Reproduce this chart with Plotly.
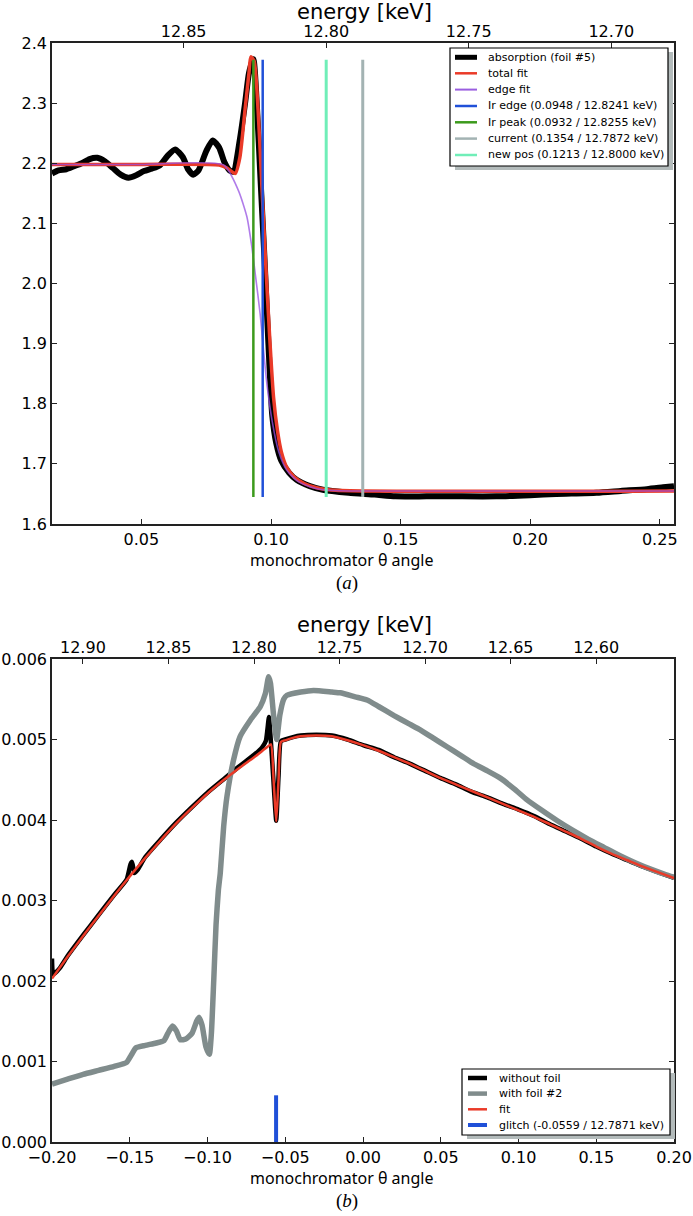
import plotly.graph_objects as go

# ---------------- Panel (a) data ----------------
abs_theta = [0.0155, 0.018, 0.021, 0.024, 0.027, 0.030, 0.033, 0.036, 0.039, 0.042, 0.045, 0.048,
             0.051, 0.054, 0.057, 0.060, 0.063, 0.066, 0.068, 0.070, 0.072, 0.075, 0.0775, 0.080,
             0.082, 0.084, 0.0855, 0.088, 0.090, 0.0915, 0.0932, 0.0945, 0.0960, 0.0975, 0.0990,
             0.1005, 0.102, 0.104, 0.107, 0.110, 0.115, 0.120, 0.130, 0.140, 0.148, 0.160, 0.170,
             0.187, 0.200, 0.210, 0.2256, 0.235, 0.245, 0.2513, 0.2555]
abs_val = [2.183, 2.188, 2.190, 2.195, 2.200, 2.207, 2.209, 2.203, 2.192, 2.181, 2.176, 2.180,
           2.187, 2.191, 2.196, 2.212, 2.223, 2.210, 2.190, 2.181, 2.188, 2.220, 2.238, 2.226,
           2.202, 2.188, 2.186, 2.240, 2.300, 2.350, 2.373, 2.300, 2.170, 2.040, 1.900,
           1.780, 1.735, 1.705, 1.685, 1.673, 1.663, 1.657, 1.652, 1.649, 1.646, 1.646, 1.646,
           1.646, 1.648, 1.650, 1.652, 1.655, 1.658, 1.661, 1.663]

fit_theta = [0.0155, 0.050, 0.080, 0.083, 0.0862, 0.088, 0.090, 0.0915, 0.0922, 0.0935, 0.095,
             0.0965, 0.098, 0.0995, 0.101, 0.1025, 0.104, 0.106, 0.109, 0.113, 0.118, 0.125, 0.2555]
fit_val = [2.198, 2.198, 2.197, 2.192, 2.183, 2.210, 2.290, 2.350, 2.377, 2.370, 2.290,
           2.160, 2.030, 1.910, 1.810, 1.755, 1.720, 1.695, 1.678, 1.667, 1.660, 1.656, 1.655]

edge_theta = [0.0155, 0.050, 0.0817, 0.0874, 0.0907, 0.0926, 0.0939, 0.0958, 0.0971, 0.0985,
              0.1005, 0.103, 0.106, 0.110, 0.115, 0.120, 0.130, 0.2555]
edge_val = [2.198, 2.198, 2.197, 2.155, 2.111, 2.061, 2.017, 1.950, 1.890, 1.830,
            1.770, 1.720, 1.690, 1.672, 1.662, 1.657, 1.655, 1.655]

marker_names = ["Ir edge (0.0948 / 12.8241 keV)", "Ir peak (0.0932 / 12.8255 keV)",
                "current (0.1354 / 12.7872 keV)", "new pos (0.1213 / 12.8000 keV)"]
marker_theta = [0.0968, 0.0932, 0.1354, 0.1213]   # drawn positions as seen in the picture
marker_span = [1.645, 2.372]
marker_colors = ["#2050d8", "#3c9a1c", "#a3b3b3", "#70eeb8"]
marker_widths = [2.5, 2.5, 3, 3]

# energy calibration (from legend entries)
cal_a = [(0.0948, 12.8241), (0.1354, 12.7872)]
ref_a = (0.1213, 12.8000)
energy_ticks_a = [12.85, 12.80, 12.75, 12.70]
energy_text_a = ["12.85", "12.80", "12.75", "12.70"]

# ---------------- Panel (b) data ----------------
nofoil_theta = [-0.200, -0.1992, -0.195, -0.190, -0.180, -0.170, -0.160, -0.152, -0.1495, -0.1485,
                -0.147, -0.145, -0.140, -0.130, -0.120, -0.110, -0.100, -0.090, -0.080, -0.070,
                -0.065, -0.0625, -0.0615, -0.0605, -0.0595, -0.0578, -0.0558, -0.0543, -0.0528,
                -0.050, -0.045, -0.040, -0.030, -0.020, -0.010, 0.000, 0.010, 0.020, 0.030, 0.040,
                0.050, 0.060, 0.070, 0.080, 0.090, 0.100, 0.110, 0.120, 0.130, 0.140, 0.150,
                0.160, 0.170, 0.180, 0.190, 0.200]
nofoil_val = [0.00228, 0.00208, 0.00216, 0.00231, 0.00257, 0.00282, 0.00307, 0.00326, 0.00345, 0.00348,
              0.00334, 0.00338, 0.00354, 0.00376, 0.00397, 0.00416, 0.00434, 0.00450, 0.00466, 0.00481,
              0.00490, 0.00498, 0.00512, 0.00528, 0.00505, 0.00455, 0.00399, 0.00455, 0.00498,
              0.00500, 0.00503, 0.00505, 0.00506, 0.00505, 0.00500, 0.00493, 0.00487, 0.00478,
              0.00470, 0.00461, 0.00452, 0.00444, 0.00435, 0.00428, 0.00420, 0.00413, 0.00405,
              0.00395, 0.00386, 0.00377, 0.00367, 0.00358, 0.00350, 0.00342, 0.00335, 0.00328]

fitb_theta = [-0.200, -0.190, -0.180, -0.170, -0.160, -0.150, -0.140, -0.130, -0.120, -0.110,
              -0.100, -0.090, -0.080, -0.070, -0.062, -0.0592, -0.0575, -0.0558, -0.0543, -0.0528,
              -0.050, -0.045, -0.040, -0.030, -0.020, -0.010, 0.000, 0.010, 0.020, 0.030, 0.040,
              0.050, 0.060, 0.070, 0.080, 0.090, 0.100, 0.110, 0.120, 0.130, 0.140, 0.150, 0.160,
              0.170, 0.180, 0.190, 0.200]
fitb_val = [0.00203, 0.00230, 0.00256, 0.00281, 0.00306, 0.00330, 0.00353, 0.00375, 0.00396, 0.00415,
            0.00433, 0.00449, 0.00464, 0.00478, 0.00490, 0.00494, 0.00450, 0.00398, 0.00450, 0.00497,
            0.00499, 0.00502, 0.00504, 0.00505, 0.00504, 0.00499, 0.00493, 0.00486, 0.00478, 0.00470,
            0.00461, 0.00452, 0.00444, 0.00436, 0.00428, 0.00420, 0.00412, 0.00404, 0.00395, 0.00386,
            0.00377, 0.00367, 0.00358, 0.00350, 0.00342, 0.00335, 0.00328]

foil_theta = [-0.200, -0.190, -0.180, -0.170, -0.160, -0.152, -0.149, -0.146, -0.140, -0.133,
              -0.128, -0.1255, -0.1225, -0.120, -0.1175, -0.114, -0.110, -0.107, -0.1055, -0.1035,
              -0.101, -0.0988, -0.0975, -0.096, -0.0945, -0.093, -0.0918, -0.0896, -0.0875, -0.0832,
              -0.079, -0.0725, -0.066, -0.0628, -0.0607, -0.0595, -0.0575, -0.0555, -0.0535, -0.051,
              -0.0489, -0.040, -0.0318, -0.020, -0.0146, -0.005, 0.0026, 0.010, 0.0197, 0.030,
              0.0368, 0.045, 0.054, 0.063, 0.0711, 0.080, 0.0883, 0.097, 0.1055, 0.115, 0.125,
              0.135, 0.145, 0.155, 0.165, 0.175, 0.185, 0.195, 0.200]
foil_val = [0.00072, 0.00078, 0.00084, 0.00089, 0.00094, 0.00099, 0.00108, 0.00117, 0.00120, 0.00123,
            0.00126, 0.00135, 0.00144, 0.00138, 0.00127, 0.00128, 0.00135, 0.00150, 0.00155, 0.00145,
            0.00118, 0.00109, 0.00135, 0.00200, 0.00270, 0.00313, 0.00334, 0.00392, 0.00429, 0.00475,
            0.00504, 0.00524, 0.00541, 0.00557, 0.00578, 0.00570, 0.00530, 0.00500, 0.00530, 0.00550,
            0.00555, 0.00559, 0.00561, 0.00559, 0.00558, 0.00553, 0.00549, 0.00541, 0.00530, 0.00519,
            0.00512, 0.00502, 0.00491, 0.00480, 0.00470, 0.00461, 0.00452, 0.00439, 0.00425, 0.00412,
            0.00399, 0.00387, 0.00376, 0.00366, 0.00356, 0.00347, 0.00339, 0.00332, 0.00329]

glitch_name = "glitch (-0.0559 / 12.7871 keV)"
glitch_theta = -0.0559
glitch_energy = 12.7871
glitch_span = [0.0, 0.00058]
energy_ticks_b = [12.90, 12.85, 12.80, 12.75, 12.70, 12.65, 12.60]
energy_text_b = ["12.90", "12.85", "12.80", "12.75", "12.70", "12.65", "12.60"]

# ---------------- layout geometry ----------------
W, H = 693, 1216
ML, MR, MT, MB = 52, 19, 43, 74
PW, PH = W - ML - MR, H - MT - MB


def fx(px):
    return (px - ML) / PW


def fy(py):
    return 1 - (py - MT) / PH


xr_a = [0.0155, 0.2555]
yr_a = [1.6, 2.4]
xr_b = [-0.2, 0.2]
yr_b = [0.0, 0.006]

slope = (cal_a[1][1] - cal_a[0][1]) / (cal_a[1][0] - cal_a[0][0])
tickpos_a = [ref_a[0] + (e - ref_a[1]) / slope for e in energy_ticks_a]
tickpos_b = [glitch_theta + (e - glitch_energy) / slope for e in energy_ticks_b]

RED = "#ea3a28"
PURPLE = "#9a5ee0"
GRAY_B = "#808c8c"
BLUE = "#2050d8"

fig = go.Figure()
sp = dict(line_shape="spline", mode="lines", hoverinfo="skip", showlegend=False)

fig.add_trace(go.Scatter(x=abs_theta, y=abs_val, line=dict(color="black", width=6, smoothing=0.6),
                         xaxis="x", yaxis="y", **sp))
fig.add_trace(go.Scatter(x=fit_theta, y=fit_val, line=dict(color=RED, width=3.5, smoothing=0.6),
                         xaxis="x", yaxis="y", **sp))
fig.add_trace(go.Scatter(x=edge_theta, y=edge_val, line=dict(color="rgba(150,80,225,0.75)", width=1.6, smoothing=0.6),
                         xaxis="x", yaxis="y", **sp))
for t, c, w in zip(marker_theta, marker_colors, marker_widths):
    fig.add_trace(go.Scatter(x=[t, t], y=marker_span, mode="lines", line=dict(color=c, width=w),
                             xaxis="x", yaxis="y", hoverinfo="skip", showlegend=False))
fig.add_trace(go.Scatter(x=xr_a, y=[yr_a[0], yr_a[0]], mode="lines", opacity=0, line=dict(width=0),
                         xaxis="x3", yaxis="y", hoverinfo="skip", showlegend=False))

fig.add_trace(go.Scatter(x=nofoil_theta, y=nofoil_val, line=dict(color="black", width=4.5, smoothing=0.5),
                         xaxis="x2", yaxis="y2", **sp))
fig.add_trace(go.Scatter(x=foil_theta, y=foil_val, line=dict(color=GRAY_B, width=5.5, smoothing=0.5),
                         xaxis="x2", yaxis="y2", **sp))
fig.add_trace(go.Scatter(x=fitb_theta, y=fitb_val, line=dict(color=RED, width=2.5, smoothing=0.5),
                         xaxis="x2", yaxis="y2", **sp))
fig.add_trace(go.Scatter(x=[glitch_theta, glitch_theta], y=glitch_span, mode="lines",
                         line=dict(color=BLUE, width=4), xaxis="x2", yaxis="y2",
                         hoverinfo="skip", showlegend=False))
fig.add_trace(go.Scatter(x=xr_b, y=[yr_b[0], yr_b[0]], mode="lines", opacity=0, line=dict(width=0),
                         xaxis="x4", yaxis="y2", hoverinfo="skip", showlegend=False))

TF = dict(family="DejaVu Sans", size=16, color="black")
ax_common = dict(showgrid=False, zeroline=False, showline=True, linecolor="#222", linewidth=1.5,
                 ticks="inside", ticklen=5, tickcolor="#222", tickwidth=1, tickfont=TF,
                 automargin=False)

dom_a = [fy(524), 1.0]
dom_b = [0.0, fy(659)]

fig.update_layout(
    width=W, height=H, margin=dict(l=ML, r=MR, t=MT, b=MB, autoexpand=False),
    paper_bgcolor="white", plot_bgcolor="white", showlegend=False,
    xaxis=dict(domain=[0, 1], anchor="y", range=xr_a, tickvals=[0.05, 0.10, 0.15, 0.20, 0.25],
               tickformat=".2f", **ax_common),
    yaxis=dict(domain=dom_a, anchor="x", range=yr_a, dtick=0.1, tick0=1.6, tickformat=".1f",
               mirror="ticks", **ax_common),
    xaxis3=dict(overlaying="x", anchor="y", side="top", range=xr_a, tickvals=tickpos_a,
                ticktext=energy_text_a, ticklabelstandoff=-2, **ax_common),
    xaxis2=dict(domain=[0, 1], anchor="y2", range=xr_b, tickvals=[-0.20, -0.15, -0.10, -0.05, 0.0, 0.05, 0.10, 0.15, 0.20],
                tickformat=".2f", **ax_common),
    yaxis2=dict(domain=dom_b, anchor="x2", range=yr_b, dtick=0.001, tick0=0, tickformat=".3f",
                mirror="ticks", **ax_common),
    xaxis4=dict(overlaying="x2", anchor="y2", side="top", range=xr_b, tickvals=tickpos_b,
                ticktext=energy_text_b, ticklabelstandoff=-2, **ax_common),
)

# ---------------- texts ----------------
ann = []
TITLE_F = dict(family="DejaVu Sans", size=21, color="black")
XT_F = dict(family="Noto Sans", size=16, color="black")
LBL_F = dict(family="Liberation Serif", size=19, color="black")
for (ty, xy, ly, lab) in [(12, 560, 583, "(<i>a</i>)"), (625, 1178, 1201, "(<i>b</i>)")]:
    ann.append(dict(text="energy [keV]", x=fx(364), y=fy(ty), xref="paper", yref="paper",
                    showarrow=False, font=TITLE_F, xanchor="center", yanchor="middle"))
    ann.append(dict(text="monochromator θ angle", x=fx(341), y=fy(xy), xref="paper", yref="paper",
                    showarrow=False, font=XT_F, xanchor="center", yanchor="middle"))
    ann.append(dict(text=lab, x=fx(347), y=fy(ly), xref="paper", yref="paper",
                    showarrow=False, font=LBL_F, xanchor="center", yanchor="middle"))

# ---------------- manual legends ----------------
shapes = []
LEG_F = dict(family="DejaVu Sans", size=11, color="black")


def legend(box, line_x, text_x, rows, entries):
    x0, y0, x1, y1 = box
    shapes.append(dict(type="rect", xref="paper", yref="paper", x0=fx(x0 + 5), x1=fx(x1 + 5),
                       y0=fy(y0 + 4), y1=fy(y1 + 4), fillcolor="#b3bbbb", line=dict(width=0), layer="above"))
    shapes.append(dict(type="rect", xref="paper", yref="paper", x0=fx(x0), x1=fx(x1),
                       y0=fy(y0), y1=fy(y1), fillcolor="white", line=dict(color="black", width=1.2),
                       layer="above"))
    for ry, (name, col, wid) in zip(rows, entries):
        shapes.append(dict(type="line", xref="paper", yref="paper", x0=fx(line_x[0]), x1=fx(line_x[1]),
                           y0=fy(ry), y1=fy(ry), line=dict(color=col, width=wid), layer="above"))
        ann.append(dict(text=name, x=fx(text_x), y=fy(ry), xref="paper", yref="paper", showarrow=False,
                        font=LEG_F, xanchor="left", yanchor="middle"))


entries_a = [("absorption (foil #5)", "black", 5), ("total fit", RED, 2.5), ("edge fit", PURPLE, 2)]
entries_a += [(n, c, 2.5) for n, c in zip(marker_names, marker_colors)]
legend((450, 48, 668, 166), (455, 477), 486, [57.3, 73.3, 89.6, 106, 122.3, 138.6, 155], entries_a)

entries_b = [("without foil", "black", 4.5), ("with foil #2", GRAY_B, 4.5), ("fit", RED, 2.5),
             (glitch_name, BLUE, 4)]
legend((462, 1069, 670, 1135), (468, 487), 497, [1078, 1093.6, 1109.3, 1125], entries_b)

fig.update_layout(annotations=ann, shapes=shapes)
fig.write_html("out.html", config={"displayModeBar": False},
               post_script="document.body.style.margin='0px';document.body.style.padding='0px';")
